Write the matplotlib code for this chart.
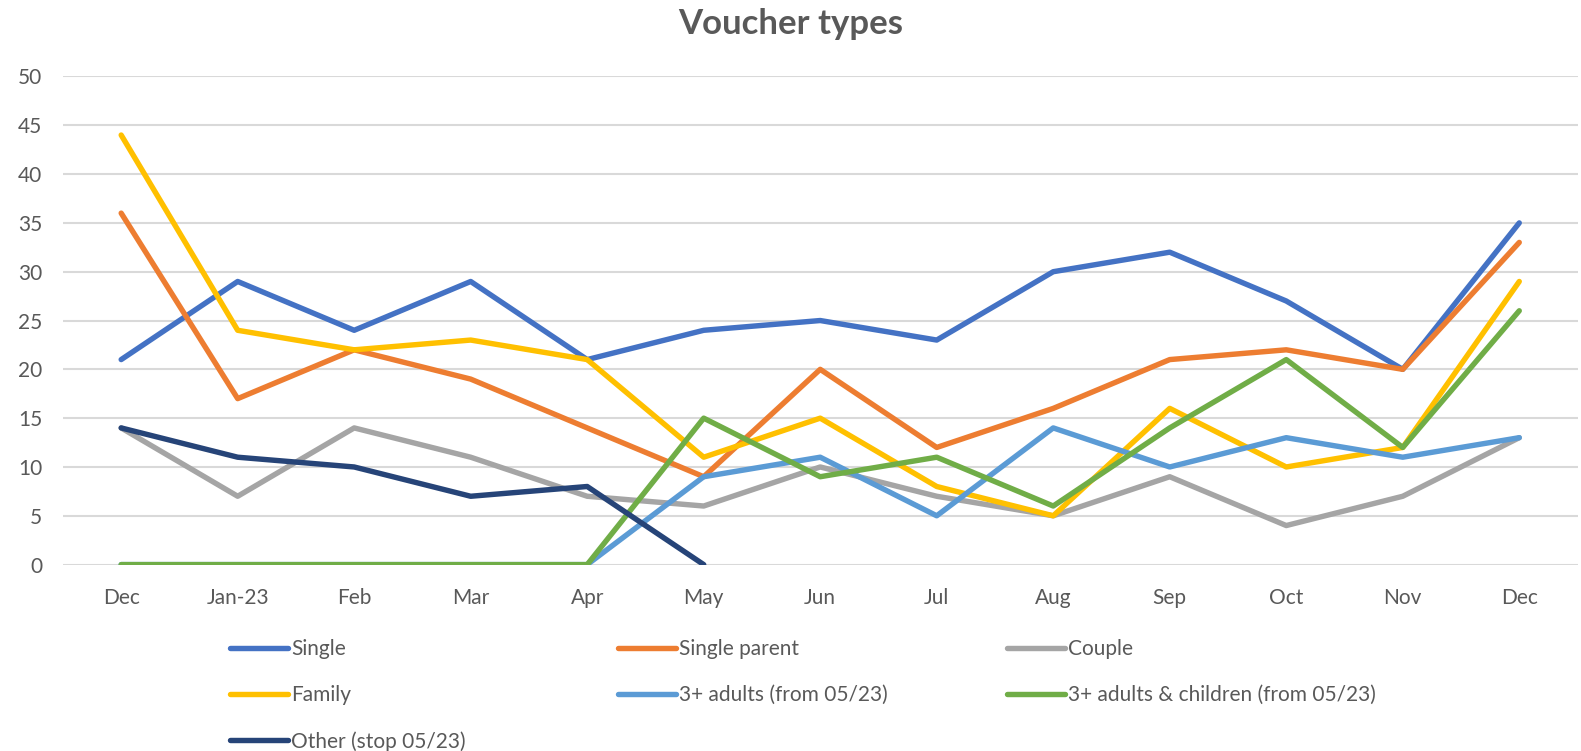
import numpy as np
import matplotlib
matplotlib.use("Agg")
from matplotlib import pyplot as plt

plt.rcParams['font.family'] = ['Lato', 'DejaVu Sans']

# data
months = ['Dec', 'Jan-23', 'Feb', 'Mar', 'Apr', 'May', 'Jun',
          'Jul', 'Aug', 'Sep', 'Oct', 'Nov', 'Dec']
single = [21, 29, 24, 29, 21, 24, 25, 23, 30, 32, 27, 20, 35]
single_parent = [36, 17, 22, 19, 14, 9, 20, 12, 16, 21, 22, 20, 33]
couple = [14, 7, 14, 11, 7, 6, 10, 7, 5, 9, 4, 7, 13]
family = [44, 24, 22, 23, 21, 11, 15, 8, 5, 16, 10, 12, 29]
adults3 = [0, 0, 0, 0, 0, 9, 11, 5, 14, 10, 13, 11, 13]
adults3_children = [0, 0, 0, 0, 0, 15, 9, 11, 6, 14, 21, 12, 26]
other = [14, 11, 10, 7, 8, 0, None, None, None, None, None, None, None]

series = [
    ('Single', single, '#4472C4'),
    ('Single parent', single_parent, '#ED7D31'),
    ('Couple', couple, '#A5A5A5'),
    ('Family', family, '#FFC000'),
    ('3+ adults (from 05/23)', adults3, '#5B9BD5'),
    ('3+ adults & children (from 05/23)', adults3_children, '#70AD47'),
    ('Other (stop 05/23)', other, '#264478'),
]

fig = plt.figure(figsize=(15.81, 7.51), dpi=100)
ax = fig.add_axes([0.0398, 0.2482, 0.958, 0.650])

x = np.arange(len(months))
handles = []
for name, vals, col in series:
    y = np.array([np.nan if v is None else v for v in vals], dtype=float)
    h, = ax.plot(x, y, color=col, lw=3.9, label=name,
                 solid_capstyle='round', solid_joinstyle='round')
    handles.append(h)

ax.set_xlim(-0.5, len(months) - 0.5)
ax.set_ylim(0, 50)
ax.set_yticks(range(0, 51, 5))
ax.set_xticks(x)
ax.set_xticklabels(months)
ax.grid(axis='y', color='#D9D9D9', lw=1.5)
ax.set_axisbelow(True)
for s in ax.spines.values():
    s.set_visible(False)
ax.tick_params(axis='both', length=0, labelsize=15, colors='#595959')
ax.tick_params(axis='y', pad=15)
ax.tick_params(axis='x', pad=17)

fig.text(0.5, 0.968, 'Voucher types', ha='center', va='center',
         fontsize=25, fontweight='bold', color='#595959')

# legend laid out row-wise in three columns like the original
cols = [[0, 3, 6], [1, 4], [2, 5]]
col_x = [0.1455, 0.3908, 0.6369]
for idx, cx in zip(cols, col_x):
    leg = fig.legend([handles[i] for i in idx], [series[i][0] for i in idx],
                     loc='upper left', bbox_to_anchor=(cx, 0.149),
                     frameon=False, fontsize=15, handlelength=2.8,
                     handletextpad=0.15, labelspacing=1.25, borderpad=0,
                     borderaxespad=0)
    for t in leg.get_texts():
        t.set_color('#595959')

fig.savefig('out.png', dpi=100)
